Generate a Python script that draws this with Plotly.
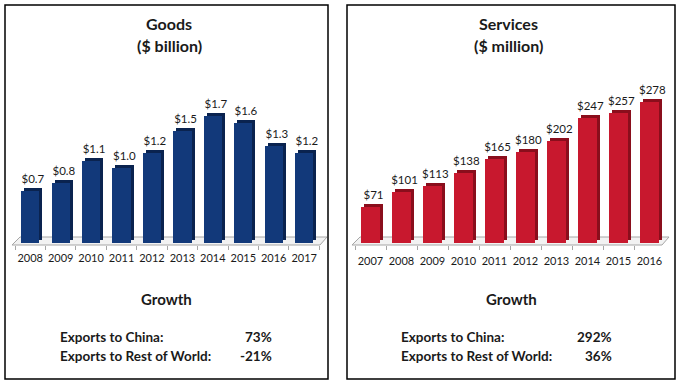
import plotly.graph_objects as go

# ---- data ----
goods_years = ["2008", "2009", "2010", "2011", "2012", "2013", "2014", "2015", "2016", "2017"]
goods_values = [0.7, 0.8, 1.1, 1.0, 1.2, 1.5, 1.7, 1.6, 1.3, 1.2]
goods_labels = ["$0.7", "$0.8", "$1.1", "$1.0", "$1.2", "$1.5", "$1.7", "$1.6", "$1.3", "$1.2"]

services_years = ["2007", "2008", "2009", "2010", "2011", "2012", "2013", "2014", "2015", "2016"]
services_values = [71, 101, 113, 138, 165, 180, 202, 247, 257, 278]
services_labels = ["$71", "$101", "$113", "$138", "$165", "$180", "$202", "$247", "$257", "$278"]

goods_growth = [("Exports to China:", "73%"), ("Exports to Rest of World:", "-21%")]
services_growth = [("Exports to China:", "292%"), ("Exports to Rest of World:", "36%")]

W, H = 680, 384
FONT = "Lato"
TXT = "#1a1a1a"


def px(x):
    return x / W


def py(y):
    return 1 - y / H


fig = go.Figure()

GOODS_FRONT, GOODS_SIDE = "#12397A", "#0A234F"
SERV_FRONT, SERV_SIDE = "#C8182E", "#8A0E1C"

label_font = dict(family=FONT, size=11.5, color=TXT)

# depth (3D side/top) traces drawn first, carrying the value labels
fig.add_trace(go.Bar(x=goods_years, y=goods_values, base=0.04, width=0.6, offset=-0.2,
                     marker=dict(color=GOODS_SIDE, line=dict(width=0)), xaxis="x", yaxis="y",
                     text=goods_labels, textposition="outside", textfont=label_font,
                     constraintext="none", cliponaxis=False, textangle=0,
                     hoverinfo="skip", showlegend=False))
fig.add_trace(go.Bar(x=goods_years, y=goods_values, width=0.6, offset=-0.3,
                     marker=dict(color=GOODS_FRONT, line=dict(width=0)), xaxis="x", yaxis="y",
                     showlegend=False))
fig.add_trace(go.Bar(x=services_years, y=services_values, base=5.9, width=0.6, offset=-0.2,
                     marker=dict(color=SERV_SIDE, line=dict(width=0)), xaxis="x2", yaxis="y2",
                     text=services_labels, textposition="outside", textfont=label_font,
                     constraintext="none", cliponaxis=False, textangle=0,
                     hoverinfo="skip", showlegend=False))
fig.add_trace(go.Bar(x=services_years, y=services_values, width=0.6, offset=-0.3,
                     marker=dict(color=SERV_FRONT, line=dict(width=0)), xaxis="x2", yaxis="y2",
                     showlegend=False))

annotations = []
# titles
for cx, l1, l2 in [(169, "Goods", "($ billion)"), (508, "Services", "($ million)")]:
    annotations.append(dict(x=px(cx), y=py(23), xref="paper", yref="paper", text="<b>%s</b>" % l1,
                            showarrow=False, xanchor="center", yanchor="middle",
                            font=dict(family=FONT, size=16, color=TXT)))
    annotations.append(dict(x=px(cx), y=py(45), xref="paper", yref="paper", text="<b>%s</b>" % l2,
                            showarrow=False, xanchor="center", yanchor="middle",
                            font=dict(family=FONT, size=16, color=TXT)))

# growth sections
for cx, lx, rx, rows in [(166, 58, 274, goods_growth), (511, 399, 614, services_growth)]:
    annotations.append(dict(x=px(cx), y=py(299), xref="paper", yref="paper", text="<b>Growth</b>",
                            showarrow=False, xanchor="center", yanchor="middle",
                            font=dict(family=FONT, size=15, color=TXT)))
    for i, (lab, val) in enumerate(rows):
        yy = 337 + 19 * i
        annotations.append(dict(x=px(lx), y=py(yy), xref="paper", yref="paper", text="<b>%s</b>" % lab,
                                showarrow=False, xanchor="left", yanchor="middle",
                                font=dict(family=FONT, size=13.5, color=TXT)))
        annotations.append(dict(x=px(rx), y=py(yy), xref="paper", yref="paper", text="<b>%s</b>" % val,
                                showarrow=False, xanchor="right", yanchor="middle",
                                font=dict(family=FONT, size=13.5, color=TXT)))

shapes = []
# panel boxes
for x0, x1 in [(5, 328), (347, 675)]:
    shapes.append(dict(type="rect", xref="paper", yref="paper", x0=px(x0), x1=px(x1),
                       y0=py(379), y1=py(5), line=dict(color="#000000", width=1.5)))
# floors (3D base plates)
for fx0, fx1 in [(12, 320), (352, 662)]:
    path = "M %f %f L %f %f L %f %f L %f %f Z" % (
        px(fx0), py(245), px(fx1), py(245), px(fx1 + 7), py(237), px(fx0 + 8), py(237))
    shapes.append(dict(type="path", xref="paper", yref="paper", path=path, layer="below",
                       fillcolor="#F2F2F2", line=dict(color="#A6A6A6", width=1)))

axis_common = dict(type="category", showgrid=False, zeroline=False, showline=False,
                   ticks="outside", tickson="boundaries", ticklen=4, tickcolor="#A6A6A6",
                   tickangle=0,
                   tickfont=dict(family=FONT, size=11, color=TXT), anchor="free",
                   position=py(245))

fig.update_layout(
    width=W, height=H, margin=dict(l=0, r=0, t=0, b=0),
    paper_bgcolor="white", plot_bgcolor="rgba(0,0,0,0)",
    barmode="overlay", bargap=0, showlegend=False,
    xaxis=dict(domain=[px(15), px(319.4)], range=[-0.5, 9.5], ticklabelstandoff=5, **axis_common),
    xaxis2=dict(domain=[px(355), px(665)], range=[-0.5, 9.5], ticklabelstandoff=8, **axis_common),
    yaxis=dict(domain=[py(243), py(93)], range=[0, 2.0], visible=False, anchor="x"),
    yaxis2=dict(domain=[py(243), py(91)], range=[0, 300], visible=False, anchor="x2"),
    annotations=annotations, shapes=shapes,
)

fig.write_html("out.html", config={"displayModeBar": False},
               post_script="document.body.style.margin='0px';")
